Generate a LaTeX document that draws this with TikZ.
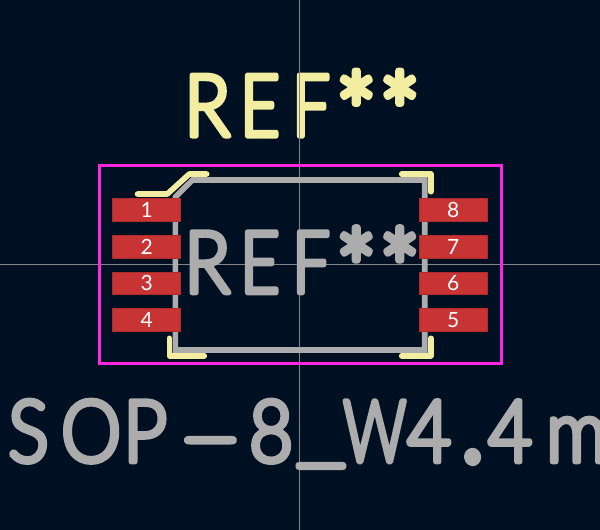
\documentclass[tikz,border=0pt]{standalone}
\usepackage{fontspec}
\setmainfont{Lato}
\font\kibig="Lato Light:extend=0.88;embolden=6" at 86pt
\definecolor{bg}{RGB}{0,16,35}
\definecolor{silk}{RGB}{242,237,161}
\definecolor{fab}{RGB}{172,172,172}
\definecolor{padred}{RGB}{200,52,52}
\definecolor{court}{RGB}{255,38,226}
\definecolor{axis}{RGB}{130,132,140}
\newcommand{\gl}[2]{\makebox[#1pt][l]{#2}}
\newcommand{\rnd}{\special{pdf:code 1 j 1 J}}
\newcommand{\strr}{\raisebox{-17pt}{\scalebox{1.28}{*}}}
\newcommand{\reftext}{\rnd\kibig\gl{56}{R}\gl{52}{\scalebox{.9}[1]{E}}\gl{43.5}{\scalebox{.88}[1]{F}}\gl{43.5}{\strr}\strr}
\tikzset{
  x=1pt,y=-1pt,
  silkline/.style={draw=silk,line width=5.6pt,line cap=round,line join=round},
  fabline/.style={draw=fab,line width=5.6pt,line cap=butt,line join=miter},
  padbox/.style={fill=padred,draw=padred!85!black,line width=.5pt,minimum width=68pt,minimum height=22.6pt,inner sep=0pt,text=white,font=\fontsize{21}{21}\selectfont},
  bigtext/.style={anchor=base west,inner sep=0pt},
}
\begin{document}
\begin{tikzpicture}
\useasboundingbox (0,0) rectangle (600,530);
\fill[bg] (0,0) rectangle (600,530);
\begin{scope}
\clip (0,0) rectangle (600,530);
\node[bigtext,text=silk] (refy) at (184,136) {\reftext};
\draw[axis,line width=.7pt] (299.5,0) -- (299.5,530) (0,264.5) -- (600,264.5);
\draw[court,line width=3pt] (99.7,165.7) rectangle (501.7,363.7);
\draw[fabline] (175.3,350) -- (175.3,197) -- (192.5,180) -- (424.7,180) -- (424.7,350) -- cycle;
\draw[silkline] (137.5,194) -- (167.3,194) -- (189.3,174) -- (206.7,174);
\draw[silkline] (169.3,338.3) -- (169.3,355.7) -- (204.3,355.7);
\draw[silkline] (401.7,174) -- (430.7,174) -- (430.7,191.7);
\draw[silkline] (401.7,355.7) -- (430.7,355.7) -- (430.7,338.3);
\node[bigtext,text=fab] (reff) at (184,292.7) {\reftext};
\node[bigtext,text=fab] (val) at (8,461.7) {\rnd\kibig\gl{53}{S}\gl{62}{O}\gl{55}{P}\gl{71}{\raisebox{-4pt}{\scalebox{2.3}[1]{-}}}\gl{47}{8}\gl{47}{\raisebox{6pt}{\scalebox{1.45}[1]{\_}}}\gl{64}{\scalebox{.82}[1]{W}}\gl{53}{4}\gl{28}{\scalebox{1.4}{.}}\gl{58}{4}m};
\node[padbox] (p1) at (146.7,209.7) {1};
\node[padbox] (p2) at (146.7,246.5) {2};
\node[padbox] (p3) at (146.7,283.2) {3};
\node[padbox] (p4) at (146.7,320) {4};
\node[padbox] (p8) at (453.2,209.7) {8};
\node[padbox] (p7) at (453.2,246.5) {7};
\node[padbox] (p6) at (453.2,283.2) {6};
\node[padbox] (p5) at (453.2,320) {5};
\end{scope}
\end{tikzpicture}
\end{document}
